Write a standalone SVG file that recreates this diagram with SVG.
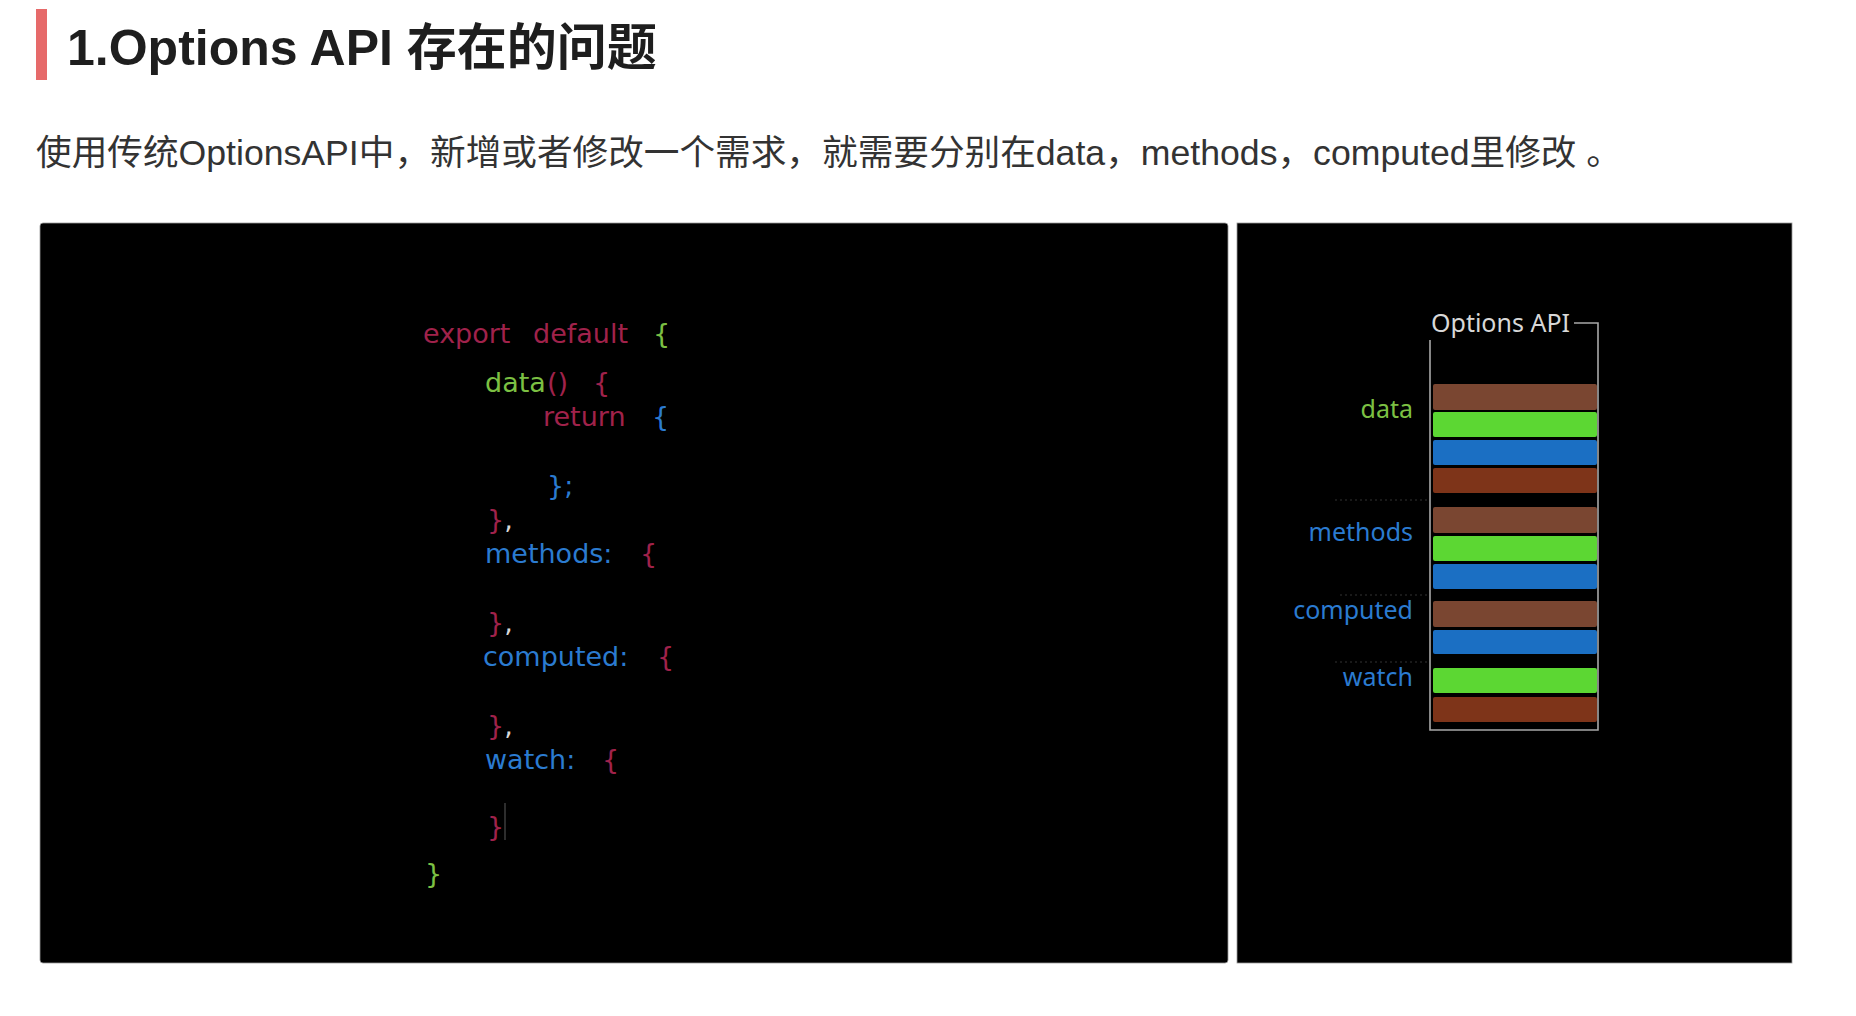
<svg xmlns="http://www.w3.org/2000/svg" width="1856" height="1016" viewBox="0 0 1856 1016">
  <style>
    .title { font-family: "Liberation Sans", "Noto Sans CJK SC", sans-serif; font-weight: bold; font-size: 50px; fill: #1e1e1e; }
    .sub { font-family: "Liberation Sans", "Noto Sans CJK SC", sans-serif; font-size: 35px; fill: #333333; }
    .code { font-family: "DejaVu Sans", "Noto Sans", sans-serif; font-size: 27px; }
    .lbl { font-family: "Noto Sans", "DejaVu Sans", sans-serif; font-size: 25px; text-anchor: end; }
    .r { fill: #a0224b; }
    .g { fill: #7cc043; }
    .b { fill: #2b7bd0; }
    .w { fill: #d8d8d8; }
    .box { fill: none; stroke: #a8a8a8; stroke-width: 1.6; }
    .dots { stroke: #333333; stroke-width: 1.2; stroke-dasharray: 2 3; }
    .brown { fill: #7a4631; }
    .lime { fill: #5cd733; }
    .blue { fill: #1b6fc3; }
    .rust { fill: #7e3419; }
  </style>

  <rect x="0" y="0" width="1856" height="1016" fill="#ffffff"/>

  <g id="heading">
    <rect x="36" y="9" width="11" height="71" fill="#e66a6a"/>
    <text class="title" x="67" y="65">1.Options API 存在的问题</text>
  </g>

  <g id="description">
    <text class="sub" x="36" y="165" textLength="1586" lengthAdjust="spacingAndGlyphs">使用传统OptionsAPI中，新增或者修改一个需求，就需要分别在data，methods，computed里修改 。</text>
  </g>

  <g id="code-panel">
    <rect x="40" y="223" width="1188" height="740" rx="3" fill="#000000" stroke="#9a9a9a" stroke-width="0.8"/>
    <text class="code" y="343"><tspan class="r" x="423">export</tspan><tspan class="r" x="533">default</tspan><tspan class="g" x="653">{</tspan></text>
    <text class="code" y="392"><tspan class="g" x="485">data</tspan><tspan class="r" x="547">()</tspan><tspan class="r" x="593">{</tspan></text>
    <text class="code" y="426"><tspan class="r" x="543">return</tspan><tspan class="b" x="652">{</tspan></text>
    <text class="code" y="495"><tspan class="b" x="547">};</tspan></text>
    <text class="code" y="529"><tspan class="r" x="487">}</tspan><tspan class="w">,</tspan></text>
    <text class="code" y="563"><tspan class="b" x="485">methods:</tspan><tspan class="r" x="640">{</tspan></text>
    <text class="code" y="632"><tspan class="r" x="487">}</tspan><tspan class="w">,</tspan></text>
    <text class="code" y="666"><tspan class="b" x="483">computed:</tspan><tspan class="r" x="657">{</tspan></text>
    <text class="code" y="735"><tspan class="r" x="487">}</tspan><tspan class="w">,</tspan></text>
    <text class="code" y="769"><tspan class="b" x="485">watch:</tspan><tspan class="r" x="602">{</tspan></text>
    <text class="code" y="836"><tspan class="r" x="487">}</tspan></text>
    <line x1="505" y1="803" x2="505" y2="840" stroke="#3c3c3c" stroke-width="1.5"/>
    <text class="code" y="883"><tspan class="g" x="425">}</tspan></text>
  </g>

  <g id="options-panel">
    <rect x="1237" y="223" width="555" height="740" fill="#000000" stroke="#9a9a9a" stroke-width="0.8"/>
    <text class="lbl w" x="1570" y="332">Options API</text>
    <path class="box" d="M1574 323 H1598 V730 H1430 V340"/>
    <line class="dots" x1="1335" y1="500" x2="1430" y2="500"/>
    <line class="dots" x1="1340" y1="595" x2="1430" y2="595"/>
    <line class="dots" x1="1335" y1="662" x2="1428" y2="662"/>

    <rect class="brown" x="1433" y="384" width="164" height="26" rx="2"/>
    <rect class="lime" x="1433" y="412" width="164" height="25" rx="2"/>
    <rect class="blue" x="1433" y="440" width="164" height="25" rx="2"/>
    <rect class="rust" x="1433" y="468" width="164" height="25" rx="2"/>
    <rect class="brown" x="1433" y="507" width="164" height="26" rx="2"/>
    <rect class="lime" x="1433" y="536" width="164" height="25" rx="2"/>
    <rect class="blue" x="1433" y="564" width="164" height="25" rx="2"/>
    <rect class="brown" x="1433" y="601" width="164" height="26" rx="2"/>
    <rect class="blue" x="1433" y="630" width="164" height="24" rx="2"/>
    <rect class="lime" x="1433" y="668" width="164" height="25" rx="2"/>
    <rect class="rust" x="1433" y="697" width="164" height="25" rx="2"/>

    <text class="lbl g" x="1413" y="418">data</text>
    <text class="lbl b" x="1413" y="541">methods</text>
    <text class="lbl b" x="1413" y="619">computed</text>
    <text class="lbl b" x="1413" y="686">watch</text>
  </g>
</svg>
